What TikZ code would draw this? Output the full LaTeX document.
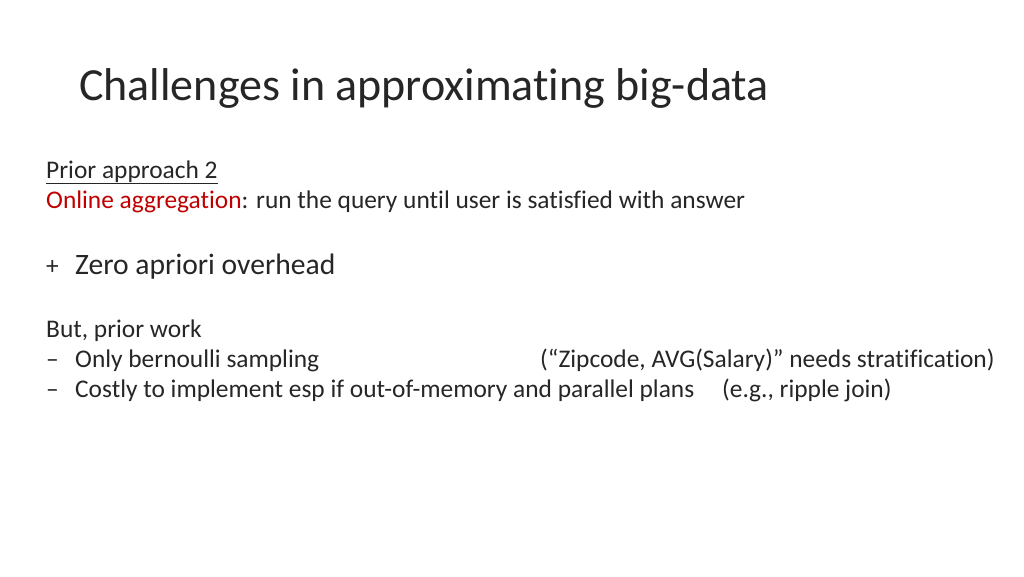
\documentclass[tikz,border=0pt]{standalone}
\usepackage{fontspec}
\setmainfont{Carlito}[Ligatures=NoCommon]
\definecolor{accent}{RGB}{192,0,0}
\definecolor{ink}{RGB}{38,38,38}
\begin{document}
\begin{tikzpicture}[x=1pt,y=-1pt,
  txt/.style={anchor=base west,inner sep=0pt,text=ink,font=\fontsize{25.4}{30}\selectfont}]
\useasboundingbox[fill=white] (0,0) rectangle (1024,576);
\node[txt,font=\fontsize{46}{54}\selectfont] (title) at (79,100) {Challenges in approximating big-data};
\node[txt] (prior) at (46,178) {\underline{Prior approach 2}};
\node[txt] (online) at (46,208) {\textcolor{accent}{Online aggregation}: run the query until user is satisfied with answer};
\node[txt] (plus) at (46,274) {+};
\node[txt,font=\fontsize{29.6}{34}\selectfont] (zero) at (75,274) {Zero apriori overhead};
\node[txt] (but) at (46,337) {But, prior work};
\node[txt] (d1) at (46,367) {–};
\node[txt] (only) at (75,367) {Only bernoulli sampling};
\node[txt] (zip) at (540,367) {(“Zipcode, AVG(Salary)” needs stratification)};
\node[txt] (d2) at (46,397) {–};
\node[txt] (costly) at (75,397) {Costly to implement esp if out-of-memory and parallel plans};
\node[txt] (ripple) at (722,397) {(e.g., ripple join)};
\end{tikzpicture}
\end{document}
